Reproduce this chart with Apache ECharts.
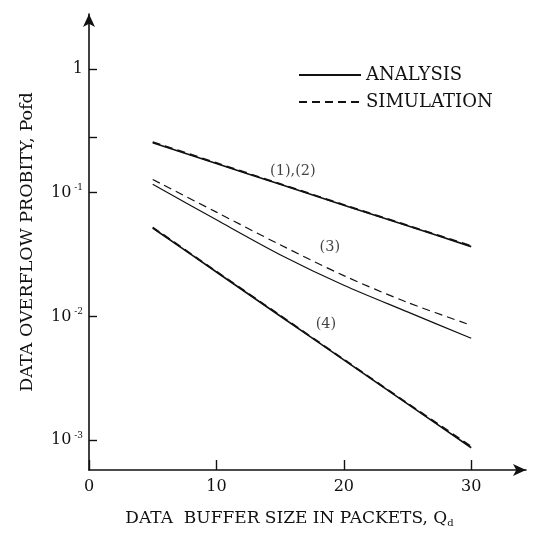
<!DOCTYPE html>
<html>
<head>
<meta charset="utf-8">
<style>
  html, body { margin: 0; padding: 0; background: #fff; }
  #chart { width: 537px; height: 533px; }
</style>
<script src="https://cdn.jsdelivr.net/npm/echarts@6/dist/echarts.min.js"></script>
</head>
<body>
<div id="chart"></div>
<script>
// buffer sizes (packets)
const bufferSizes = [5, 10, 15, 20, 25, 30];

// overflow probability, curve (1),(2)
const analysis12 = [0.253, 0.172, 0.117, 0.0794, 0.054, 0.0367];
const simulation12 = [0.257, 0.174, 0.118, 0.0800, 0.0545, 0.0372];
// curve (3)
const analysis3 = [0.117, 0.0604, 0.0316, 0.0179, 0.0109, 0.00667];
const simulation3 = [0.128, 0.0697, 0.038, 0.0214, 0.013, 0.0085];
// curve (4)
const analysis4 = [0.0519, 0.0229, 0.0101, 0.00447, 0.00197, 0.00087];
const simulation4 = [0.0525, 0.0231, 0.0102, 0.0045, 0.00199, 0.00089];

// curve labels
const curveLabels = ["(1),(2)", "(3)", "(4)"];
const curveLabelX = [16.0, 18.9, 18.6];
const curveLabelY = [0.148, 0.036, 0.0086];

// tick values
const xTicks = [0, 10, 20, 30];
const yLabelTicks = [0.001, 0.01, 0.1, 1];
const yTicks = [0.001, 0.01, 0.1, 0.28, 1];

const FONT = "DejaVu Serif";
const INK = "#111";

function pairs(xs, ys) {
  return xs.map((x, i) => [x, ys[i]]);
}

function lineSeries(name, data, dashed, width) {
  return {
    name,
    type: "line",
    data: pairs(bufferSizes, data),
    symbol: "none",
    smooth: 0.3,
    silent: true,
    lineStyle: {
      color: INK,
      width,
      type: dashed ? [8, 5] : "solid",
    },
    itemStyle: { color: INK, opacity: 0 },
  };
}

const chart = echarts.init(document.getElementById("chart"), null, { renderer: "canvas" });

const option = {
  animation: false,
  backgroundColor: "#fff",
  grid: { left: 89, right: 11, top: 14, bottom: 62 },
  legend: {
    data: ["ANALYSIS", "SIMULATION"],
    orient: "vertical",
    left: 293,
    top: 61,
    itemWidth: 62,
    itemHeight: 14,
    itemGap: 9,
    itemStyle: { opacity: 0 },
    textStyle: { fontFamily: FONT, fontSize: 18, color: INK },
    inactiveColor: INK,
    selectedMode: false,
  },
  xAxis: {
    type: "value",
    min: 0,
    max: 34.3,
    name: "DATA  BUFFER SIZE IN PACKETS, Q{sub|d}",
    nameLocation: "middle",
    nameGap: 40,
    nameTextStyle: {
      fontFamily: FONT,
      fontSize: 17,
      color: INK,
      padding: [0, 36, 0, 0],
      rich: {
        sub: { fontFamily: FONT, fontSize: 10, color: INK, padding: [8, 0, 0, 0] },
      },
    },
    axisLine: {
      show: true,
      symbol: ["none", "arrow"],
      symbolSize: [9, 13],
      lineStyle: { color: INK, width: 1.6 },
    },
    axisTick: {
      show: true,
      inside: true,
      length: 10,
      customValues: xTicks,
      lineStyle: { color: INK, width: 1.4 },
    },
    axisLabel: {
      customValues: xTicks,
      margin: 9,
      fontFamily: FONT,
      fontSize: 16,
      color: INK,
    },
    splitLine: { show: false },
  },
  yAxis: {
    type: "log",
    logBase: 10,
    min: Math.pow(10, -3.24),
    max: 2.78,
    name: "DATA OVERFLOW PROBITY, Pofd",
    nameLocation: "middle",
    nameRotate: 90,
    nameGap: 53,
    nameTextStyle: { fontFamily: FONT, fontSize: 17.5, color: INK },
    axisLine: {
      show: true,
      symbol: ["none", "arrow"],
      symbolSize: [9, 13],
      lineStyle: { color: INK, width: 1.6 },
    },
    axisTick: {
      show: true,
      inside: true,
      length: 8,
      customValues: yTicks,
      lineStyle: { color: INK, width: 1.4 },
    },
    axisLabel: {
      customValues: yLabelTicks,
      margin: 6,
      color: INK,
      fontFamily: FONT,
      formatter: function (value) {
        const e = Math.round(Math.log10(value));
        if (e === 0) {
          return "{b|1}";
        }
        return "{b|10}{s| " + (e < 0 ? "-" : "") + Math.abs(e) + "}";
      },
      rich: {
        b: { fontFamily: FONT, fontSize: 16, color: INK },
        s: { fontFamily: FONT, fontSize: 9, color: INK, padding: [0, 0, 10, 0] },
      },
    },
    splitLine: { show: false },
  },
  series: [
    lineSeries("ANALYSIS", analysis12, false, 1.6),
    lineSeries("SIMULATION", simulation12, true, 1.8),
    lineSeries("ANALYSIS", analysis3, false, 1.2),
    lineSeries("SIMULATION", simulation3, true, 1.2),
    lineSeries("ANALYSIS", analysis4, false, 1.6),
    lineSeries("SIMULATION", simulation4, true, 1.8),
    {
      name: "labels",
      type: "scatter",
      silent: true,
      symbolSize: 0,
      data: curveLabels.map((t, i) => ({ value: [curveLabelX[i], curveLabelY[i]], name: t })),
      label: {
        show: true,
        position: "inside",
        formatter: (p) => p.name,
        fontFamily: FONT,
        fontSize: 14.5,
        color: INK,
      },
    },
  ],
};

chart.setOption(option);
</script>
</body>
</html>
